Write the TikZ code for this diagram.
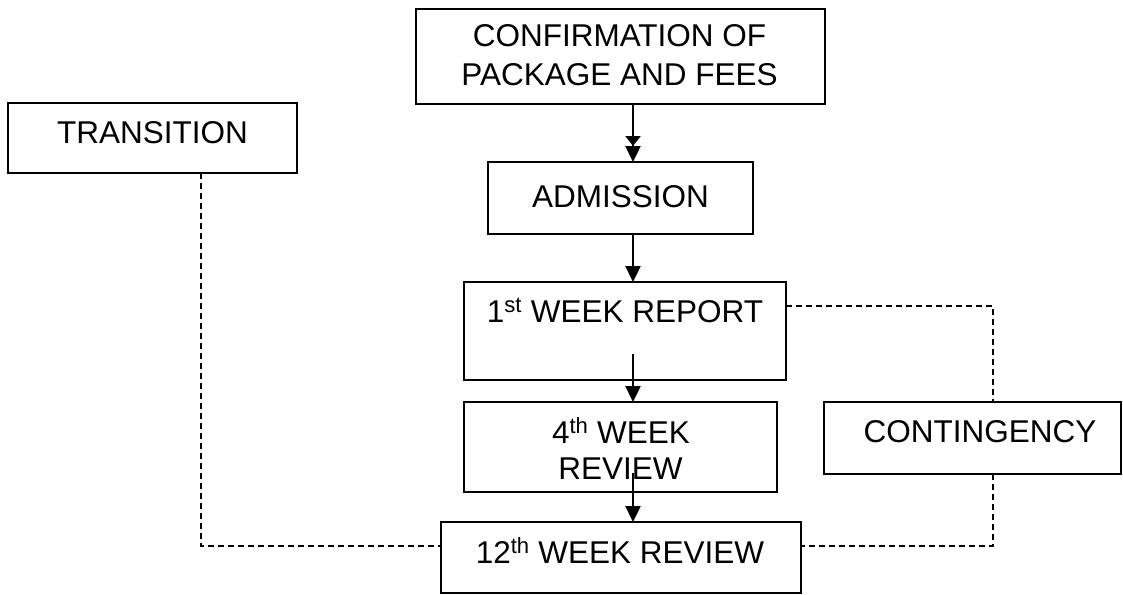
\documentclass[tikz,border=0pt]{standalone}
\usepackage{fontspec}
\setmainfont{Liberation Sans}
\usetikzlibrary{arrows.meta}
\begin{document}
\begin{tikzpicture}[x=1pt,y=-1pt,
  box/.style={draw, line width=2pt, minimum width=#1, outer sep=0pt, inner sep=0pt},
  txt/.style={inner sep=0pt, anchor=base, font=\fontsize{31.5}{38}\selectfont},
  flow/.style={line width=2.4pt, -{Triangle[width=15pt,length=16pt]}},
  dflow/.style={line width=2.4pt, -{Triangle[width=15pt,length=10pt,sep=0pt]Triangle[width=15pt,length=16pt]}},
  link/.style={line width=1.5pt, dash pattern=on 6pt off 4pt}]
\useasboundingbox (0,0) rectangle (1123,594);
% boxes
\node[box=409pt, minimum height=95pt] (conf) at (620.5,56.5) {};
\node[box=265pt, minimum height=72pt] (adm) at (620.5,198) {};
\node[box=322pt, minimum height=98pt] (w1) at (625,331) {};
\node[box=313pt, minimum height=90pt] (w4) at (620.5,447) {};
\node[box=360pt, minimum height=71pt] (w12) at (621,557.5) {};
\node[box=289pt, minimum height=70pt] (trans) at (152.5,138) {};
\node[box=297pt, minimum height=72pt] (cont) at (972.5,438) {};
% texts
\node[txt] (c1) at (619.5,47) {CONFIRMATION OF};
\node[txt] (c2) at (619.5,85) {PACKAGE AND FEES};
\node[txt] (ta) at (620.5,207) {ADMISSION};
\node[txt] (t1) at (625,322) {1\textsuperscript{st} WEEK REPORT};
\node[txt] (t4a) at (621,443) {4\textsuperscript{th} WEEK};
\node[txt] (t4b) at (620.5,479) {REVIEW};
\node[txt] (t12) at (620,563) {12\textsuperscript{th} WEEK REVIEW};
\node[txt] (tt) at (152.5,143) {TRANSITION};
\node[txt] (tc) at (980,442) {CONTINGENCY};
% spine and corners
\coordinate (ax) at (633,0);
\coordinate (lx) at (201,0);
\coordinate (rx) at (993,0);
\coordinate (ry1) at (0,306);
\coordinate (ry2) at (0,546);
% arrows
\draw[dflow] (conf.south -| ax) -- (adm.north -| ax);
\draw[flow] (adm.south -| ax) -- (w1.north -| ax);
\draw[flow] ([yshift=26pt]w1.south -| ax) -- (w4.north -| ax);
\draw[flow] ([yshift=19pt]w4.south -| ax) -- (w12.north -| ax);
% dashed links
\draw[link] (trans.south -| lx) -- (lx |- ry2) -- (w12.west |- ry2);
\draw[link] (w1.east |- ry1) -- (rx |- ry1) -- (cont.north -| rx);
\draw[link] (cont.south -| rx) -- (rx |- ry2) -- (w12.east |- ry2);
\end{tikzpicture}
\end{document}
